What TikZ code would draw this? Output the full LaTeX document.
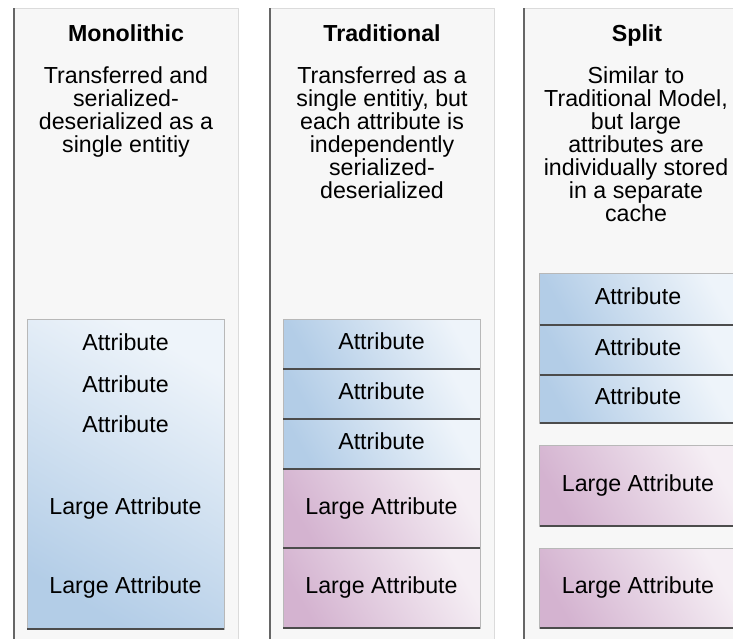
\documentclass[tikz,border=0pt]{standalone}
\usepackage{fontspec}
\setmainfont{Liberation Sans}
\definecolor{paneldef}{HTML}{F7F7F7}
\definecolor{bluedark}{HTML}{B3CDE7}
\definecolor{bluelight}{HTML}{EEF4FA}
\definecolor{pinkdark}{HTML}{D4B3D0}
\definecolor{pinklight}{HTML}{F5EEF4}

\begin{document}
\begin{tikzpicture}[x=0.5pt, y=-0.5pt,
	every node/.style={font=\fontsize{11.6}{11.5}\selectfont, inner sep=0pt, outer sep=0pt},
	panel/.style={fill=paneldef, draw=black!14, line width=0.5pt},
	paneledge/.style={draw=black!60, line width=1pt},
	title/.style={anchor=base, font=\fontsize{11.6}{11.5}\selectfont\bfseries},
	desc/.style={anchor=north, align=center},
	box/.style={rectangle, draw=black!28, line width=0.5pt, minimum width=98.5pt, text height=8.4pt, text depth=2.5pt, shading angle=-60},
	bluebox/.style={box, top color=bluelight, bottom color=bluedark, shading angle=-60},
	pinkbox/.style={box, top color=pinklight, bottom color=pinkdark, shading angle=-60},
	sep/.style={draw=black!70, line width=0.8pt}]
	\useasboundingbox (0,0) rectangle (733,638);
	\clip (0,0) rectangle (733,638);
	% the three columns
	\foreach \x in {14,270,524}{
		\draw[panel] (\x,8) rectangle ++(224,660);
		\draw[paneledge] (\x,8) -- ++(0,660);
	}
	\node[title] (mono) at (126,41) {Monolithic};
	\node[title] (trad) at (382,41) {Traditional};
	\node[title] (split) at (637,41) {Split};
	\node[desc] (monotxt) at (126,67) {Transferred and\\serialized-\\deserialized as a\\single entitiy};
	\node[desc] (tradtxt) at (382,67) {Transferred as a\\single entitiy, but\\each attribute is\\independently\\serialized-\\deserialized};
	\node[desc] (splittxt) at (636,67) {Similar to\\Traditional Model,\\but large\\attributes are\\individually stored\\in a separate\\cache};
	% monolithic
	\node[bluebox, minimum height=155pt, shading angle=-30] (mbox) at (125.5,474) {};
	\foreach \y/\t [count=\i] in {350/Attribute,392/Attribute,432/Attribute,514/Large Attribute,593/Large Attribute}{
		\node[anchor=base] (m\i) at (125.5,\y) {\t};
	}
	% traditional
	\node[bluebox, minimum height=25pt] (t1) at (381.5,344) {Attribute};
	\node[bluebox, minimum height=25pt] (t2) at (381.5,394) {Attribute};
	\node[bluebox, minimum height=25pt] (t3) at (381.5,444) {Attribute};
	\node[pinkbox, minimum height=39.5pt] (t4) at (381.5,508.5) {Large Attribute};
	\node[pinkbox, minimum height=40pt] (t5) at (381.5,588) {Large Attribute};
	% split
	\node[bluebox, minimum height=26pt] (s1) at (638,299) {Attribute};
	\node[bluebox, minimum height=25pt] (s2) at (638,350) {Attribute};
	\node[bluebox, minimum height=24pt] (s3) at (638,399) {Attribute};
	\node[pinkbox, minimum height=40.5pt] (s4) at (638,485.5) {Large Attribute};
	\node[pinkbox, minimum height=40pt] (s5) at (638,588) {Large Attribute};
	\foreach \b in {mbox,t1,t2,t3,t4,t5,s1,s2,s3,s4,s5}
		\draw[sep] (\b.south west) -- (\b.south east);
\end{tikzpicture}
\end{document}
